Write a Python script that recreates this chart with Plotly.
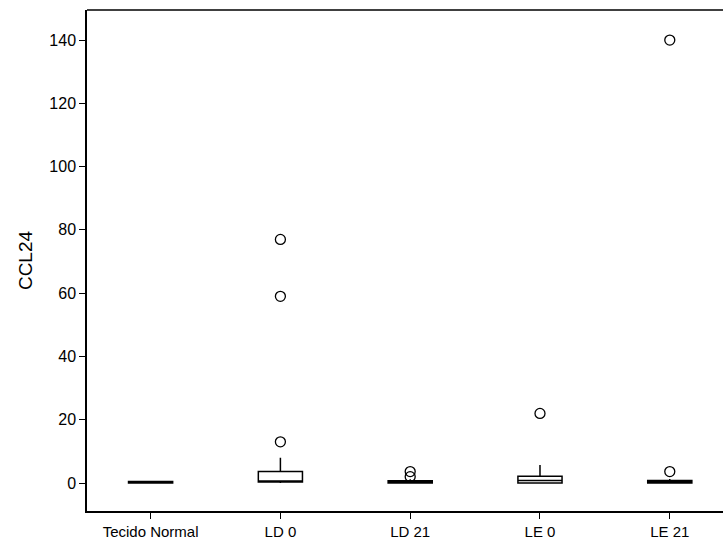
import plotly.graph_objects as go

categories = ["Tecido Normal", "LD 0", "LD 21", "LE 0", "LE 21"]
q1 = [0.0, 0.3, 0.0, 0.0, 0.0]
median = [0.2, 0.6, 0.3, 0.8, 0.3]
q3 = [0.5, 3.6, 0.7, 2.1, 0.8]
lower = [0.0, 0.0, 0.0, 0.0, 0.0]
upper = [0.6, 8.0, 1.2, 5.7, 1.3]

outlier_x = ["LD 0", "LD 0", "LD 0", "LD 21", "LD 21", "LE 0", "LE 21", "LE 21"]
outlier_y = [77, 59, 13, 3.6, 2.0, 22, 3.6, 140]

fig = go.Figure()
fig.add_trace(go.Box(
    x=categories, q1=q1, median=median, q3=q3,
    lowerfence=lower, upperfence=upper,
    fillcolor="white", line=dict(color="black", width=1.5),
    whiskerwidth=0, width=0.34, boxpoints=False, showlegend=False,
))
fig.add_trace(go.Scatter(
    x=outlier_x, y=outlier_y, mode="markers",
    marker=dict(symbol="circle-open", size=10, color="black", line=dict(width=1.3)),
    showlegend=False,
))

font_family = "Liberation Sans Narrow, Arial Narrow, Liberation Sans, Arial"
fig.update_layout(
    width=723, height=544,
    margin=dict(l=87, r=0, t=10, b=33),
    plot_bgcolor="white", paper_bgcolor="white",
    font=dict(family=font_family, size=15, color="black"),
    shapes=[dict(type="line", xref="paper", yref="paper", x0=0, x1=1.02, y0=1, y1=1,
                 line=dict(color="black", width=1.5))],
)
fig.update_xaxes(
    type="category", categoryorder="array", categoryarray=categories,
    range=[-0.49, 4.41],
    showline=True, linecolor="black", linewidth=1.5, mirror=False,
    ticks="outside", ticklen=6, tickcolor="black",
    showgrid=False, zeroline=False,
    tickfont=dict(family=font_family, size=15),
)
fig.update_yaxes(
    range=[-8.85, 149.5],
    tickvals=[0, 20, 40, 60, 80, 100, 120, 140],
    showline=True, linecolor="black", linewidth=1.5, mirror=False,
    ticks="outside", ticklen=6, tickcolor="black",
    showgrid=False, zeroline=False,
    title=dict(text="CCL24", font=dict(family="Liberation Sans, Arial", size=19), standoff=12),
    tickfont=dict(family=font_family, size=16),
)

fig.write_html("out.html")
